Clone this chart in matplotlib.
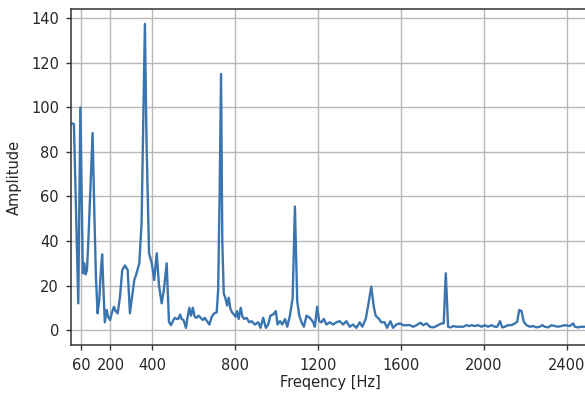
import matplotlib
matplotlib.use("Agg")
import matplotlib.pyplot as plt

freq = [16, 24, 34, 45, 55, 61, 67, 74, 80, 87, 93, 106, 114, 122, 130, 138, 146, 154, 160, 167,
        173, 182, 189, 198, 206, 217, 225, 235, 246, 257, 270, 283, 294, 302, 315, 326, 339, 350,
        366, 374, 386, 399, 411, 423, 434, 447, 458, 471, 482, 492, 503, 511, 520, 527, 536, 543,
        552, 564, 572, 580, 588, 597, 606, 615, 625, 635, 645, 655, 665, 677, 688, 700, 712, 719,
        726, 733, 739, 746, 755, 762, 770, 778, 786, 795, 803, 810, 818, 828, 836, 845, 856, 869,
        880, 896, 912, 923, 936, 949, 960, 971, 984, 997, 1005, 1017, 1028, 1041, 1052, 1065,
        1078, 1089, 1100, 1110, 1121, 1132, 1145, 1161, 1177, 1185, 1196, 1206, 1217, 1228, 1241,
        1257, 1273, 1289, 1305, 1321, 1337, 1353, 1369, 1385, 1401, 1414, 1430, 1441, 1457, 1469,
        1478, 1494, 1505, 1521, 1533, 1549, 1562, 1578, 1594, 1611, 1627, 1643, 1659, 1675, 1694,
        1707, 1723, 1739, 1752, 1765, 1779, 1795, 1806, 1816, 1827, 1839, 1852, 1868, 1884, 1900,
        1916, 1928, 1940, 1956, 1972, 1988, 2004, 2020, 2036, 2052, 2064, 2077, 2088, 2100, 2117,
        2133, 2149, 2160, 2170, 2181, 2192, 2205, 2221, 2237, 2253, 2269, 2281, 2293, 2309, 2325,
        2341, 2357, 2373, 2390, 2414, 2430, 2438, 2454, 2470, 2486, 2500]

amplitude = [92.8, 92.5, 54, 12, 100, 64, 25.5, 30, 25, 27, 39, 69, 88.5, 54, 24, 7.5, 13.5, 27, 34, 16.5,
             3.5, 9, 6, 4.5, 7.5, 10.5, 8.5, 7.5, 15, 27, 29, 27, 7.5, 13.5, 22.5, 25.5, 30, 48,
             137.5, 84, 34.5, 30, 22.5, 34.5, 20, 12, 18.5, 30, 3.7, 2.2, 4.5, 5.5, 5, 5, 7, 5,
             4.5, 1, 6, 10, 6.5, 10, 6, 5.5, 6.5, 5.5, 4.5, 5.5, 4, 2.5, 6, 7.5, 8, 18,
             60, 115, 40, 16.5, 14, 11, 14.5, 9.5, 8, 7, 6, 8.5, 5, 10, 6, 5, 5.5, 3.5,
             4, 2.5, 3.5, 1, 5.5, 1, 2.5, 6.5, 7, 8.5, 2.5, 4, 2.5, 5, 1.5, 6.5,
             14.5, 55.5, 13, 6.5, 3.5, 1.5, 6.5, 5.5, 3.5, 1.5, 10.5, 4, 3.5, 5, 2.5,
             3.5, 2.5, 3.5, 4, 2.5, 4, 1.5, 2.5, 1, 3.5, 1.5, 5, 10.5, 19.5, 10.5,
             6.5, 5, 3.5, 3.5, 1, 4, 1, 2.5, 3, 2.2, 2.2, 2.2, 1.5, 2.2, 3.3,
             2.2, 3, 1.5, 1.2, 1.5, 2.2, 3, 3, 25.5, 1.5, 1.2, 1.8, 1.5, 1.5, 1.5,
             2.2, 1.8, 2.2, 1.8, 2.2, 1.5, 2.2, 1.5, 2.2, 1.5, 1.5, 4, 1.2, 1.5, 2.2,
             2.2, 3, 3.7, 9, 8.5, 3.7, 2.2, 1.5, 1.8, 1.2, 1.5, 2.2, 1.5, 1.2, 2.2,
             1.8, 1.5, 1.8, 2.2, 1.8, 3, 1.5, 1.2, 1.5, 1.5, 1.5]

xticks = [60, 200, 400, 800, 1200, 1600, 2000, 2400]
yticks = [0, 20, 40, 60, 80, 100, 120, 140]

fig = plt.figure(figsize=(5.85, 3.96), dpi=100)
ax = fig.add_axes([0.1214, 0.1288, 0.8868, 0.8485])
ax.plot(freq, amplitude, color="#3a75b0", linewidth=1.7)
ax.set_xlim(10, 2510)
ax.set_ylim(-6.7, 144.2)
ax.set_xticks(xticks)
ax.set_yticks(yticks)
ax.tick_params(labelsize=10.5, colors="#333333", labelcolor="#262626", length=3.6, width=1.0)
ax.tick_params(axis="x", pad=5.5)
ax.tick_params(axis="y", pad=5.0)
for s in ax.spines.values():
    s.set_linewidth(1.1)
    s.set_color("#333333")
ax.grid(True, color="#b8b8b8", linewidth=1.0)
ax.set_xlabel("Freqency [Hz]", fontsize=10.5, color="#262626")
ax.set_ylabel("Amplitude", fontsize=10.5, color="#262626")
ax.yaxis.set_label_coords(-0.094, 0.5)
ax.xaxis.set_label_coords(0.5, -0.09)
fig.savefig("out.png", dpi=100)
